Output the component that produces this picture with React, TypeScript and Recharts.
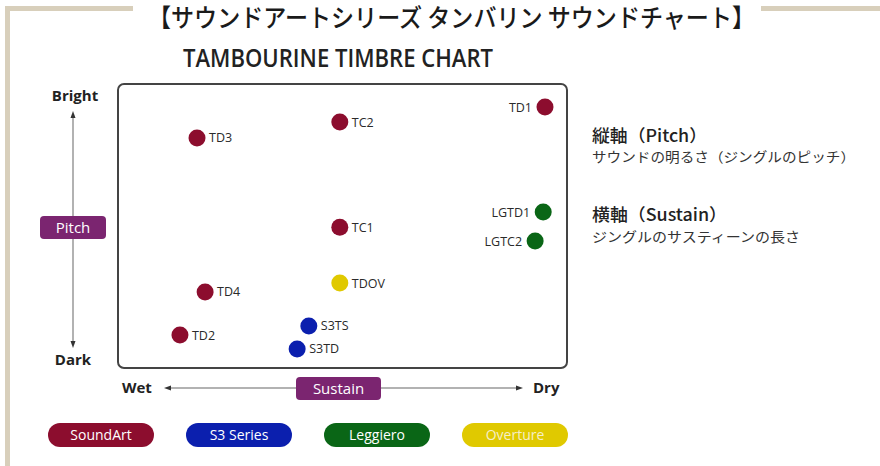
import React from 'react';
import { ScatterChart, Scatter, XAxis, YAxis, ReferenceArea, Legend } from 'recharts';

// x = sustain (0 wet .. 100 dry), y = pitch (0 dark .. 100 bright)
const soundArt = [
  { name: 'TD1', x: 95.1, y: 91.9 },
  { name: 'TC2', x: 49.4, y: 86.6 },
  { name: 'TD3', x: 17.6, y: 81.0 },
  { name: 'TC1', x: 49.4, y: 49.6 },
  { name: 'TD4', x: 19.4, y: 26.8 },
  { name: 'TD2', x: 13.8, y: 11.6 },
];
const s3Series = [
  { name: 'S3TS', x: 42.5, y: 14.8 },
  { name: 'S3TD', x: 39.9, y: 6.7 },
];
const leggiero = [
  { name: 'LGTD1', x: 94.7, y: 54.9 },
  { name: 'LGTC2', x: 92.9, y: 44.7 },
];
const overture = [{ name: 'TDOV', x: 49.4, y: 29.9 }];

const seriesNames = ['SoundArt', 'S3 Series', 'Leggiero', 'Overture'];
const seriesColors = ['#8c0d2e', '#0b1fae', '#0a6616', '#e0c900'];

const labelFont = '"Open Sans", sans-serif';
const jpFont = '"Noto Sans CJK JP", sans-serif';

const makeDot = (color: string) => (props: any) => {
  const { cx, cy, payload } = props;
  const onLeft = payload.x > 80;
  return (
    <g>
      <circle cx={cx} cy={cy} r={8.5} fill={color} />
      <text
        x={onLeft ? cx - 13 : cx + 12}
        y={cy + 4.5}
        textAnchor={onLeft ? 'end' : 'start'}
        fontSize={12.5}
        fontFamily={labelFont}
        fill="#2a2a2a"
      >
        {payload.name}
      </text>
    </g>
  );
};

const renderLegend = (props: any) => {
  const { payload } = props;
  return (
    <div style={{ display: 'flex', paddingLeft: 48, gap: 32 }}>
      {payload.map((entry: any, i: number) => (
        <div
          key={`leg-${i}`}
          style={{
            width: 106,
            height: 24,
            borderRadius: 12,
            background: entry.color,
            color: entry.value === 'Overture' ? '#f6efc8' : '#fff',
            fontFamily: labelFont,
            fontSize: 14,
            lineHeight: '24px',
            textAlign: 'center',
          }}
        >
          {entry.value}
        </div>
      ))}
    </div>
  );
};

const Decor = () => (
  <svg width={880} height={466} style={{ position: 'absolute', left: 0, top: 0 }}>
    {/* frame */}
    <rect x={5} y={6} width={128} height={5} fill="#d8cfbb" />
    <rect x={5} y={6} width={5} height={460} fill="#d8cfbb" />
    <rect x={761} y={6} width={119} height={5} fill="#d8cfbb" />
    <text x={148} y={27} fontSize={25} fontWeight={500} fontFamily={jpFont} fill="#1a1a1a" textLength={607} lengthAdjust="spacingAndGlyphs">
      【サウンドアートシリーズ タンバリン サウンドチャート】
    </text>
    <text x={183} y={67} fontSize={25} fontWeight={600} fontFamily={labelFont} fill="#222" textLength={310} lengthAdjust="spacingAndGlyphs">
      TAMBOURINE TIMBRE CHART
    </text>

    {/* vertical axis */}
    <text x={75} y={101} textAnchor="middle" fontSize={15} fontWeight={700} fontFamily={labelFont} fill="#222">Bright</text>
    <text x={73} y={365} textAnchor="middle" fontSize={15} fontWeight={700} fontFamily={labelFont} fill="#222">Dark</text>
    <line x1={73} y1={116} x2={73} y2={343} stroke="#999" strokeWidth={1.5} />
    <path d="M73,111 L70.5,118 L75.5,118 Z" fill="#333" />
    <path d="M73,348 L70.5,341 L75.5,341 Z" fill="#333" />
    <rect x={40} y={216} width={66} height={23} rx={4} fill="#7b2570" />
    <text x={73} y={233} textAnchor="middle" fontSize={15} fontFamily={labelFont} fill="#fff">Pitch</text>

    {/* horizontal axis */}
    <text x={122} y={393} fontSize={15} fontWeight={700} fontFamily={labelFont} fill="#222">Wet</text>
    <text x={533} y={393} fontSize={15} fontWeight={700} fontFamily={labelFont} fill="#222">Dry</text>
    <line x1={168} y1={388} x2={519} y2={388} stroke="#999" strokeWidth={1.5} />
    <path d="M164,388 L171,385.5 L171,390.5 Z" fill="#333" />
    <path d="M523,388 L516,385.5 L516,390.5 Z" fill="#333" />
    <rect x={296} y={377} width={85} height={23} rx={4} fill="#7b2570" />
    <text x={338.5} y={394} textAnchor="middle" fontSize={15} fontFamily={labelFont} fill="#fff">Sustain</text>

    {/* notes */}
    <text x={592} y={142} fontSize={17} fontWeight={500} fontFamily={jpFont} fill="#222" textLength={115} lengthAdjust="spacingAndGlyphs">縦軸（Pitch）</text>
    <text x={592} y={162} fontSize={13.5} fontFamily={jpFont} fill="#333" textLength={263} lengthAdjust="spacingAndGlyphs">サウンドの明るさ（ジングルのピッチ）</text>
    <text x={592} y={221} fontSize={17} fontWeight={500} fontFamily={jpFont} fill="#222" textLength={135} lengthAdjust="spacingAndGlyphs">横軸（Sustain）</text>
    <text x={592} y={242} fontSize={13.5} fontFamily={jpFont} fill="#333" textLength={208} lengthAdjust="spacingAndGlyphs">ジングルのサスティーンの長さ</text>
  </svg>
);

export default function App() {
  return (
    <div style={{ position: 'absolute', left: 0, top: 0, width: 880, height: 466, background: '#fff' }}>
      <Decor />
      <div style={{ position: 'absolute', left: 0, top: 0 }}>
        <ScatterChart width={880} height={466} margin={{ top: 84, right: 313, bottom: 74, left: 118 }}>
          <XAxis type="number" dataKey="x" domain={[0, 100]} hide />
          <YAxis type="number" dataKey="y" domain={[0, 100]} hide />
          <ReferenceArea x1={0} x2={100} y1={0} y2={100} fill="none" stroke="#444" strokeWidth={2} radius={6} />
          <Scatter name={seriesNames[0]} data={soundArt} fill={seriesColors[0]} shape={makeDot(seriesColors[0])} isAnimationActive={false} />
          <Scatter name={seriesNames[1]} data={s3Series} fill={seriesColors[1]} shape={makeDot(seriesColors[1])} isAnimationActive={false} />
          <Scatter name={seriesNames[2]} data={leggiero} fill={seriesColors[2]} shape={makeDot(seriesColors[2])} isAnimationActive={false} />
          <Scatter name={seriesNames[3]} data={overture} fill={seriesColors[3]} shape={makeDot(seriesColors[3])} isAnimationActive={false} />
          <Legend
            content={renderLegend}
            itemSorter={(item: any) => seriesNames.indexOf(item.value)}
            wrapperStyle={{ position: 'absolute', left: 0, top: 423, width: 880 }}
          />
        </ScatterChart>
      </div>
    </div>
  );
}
